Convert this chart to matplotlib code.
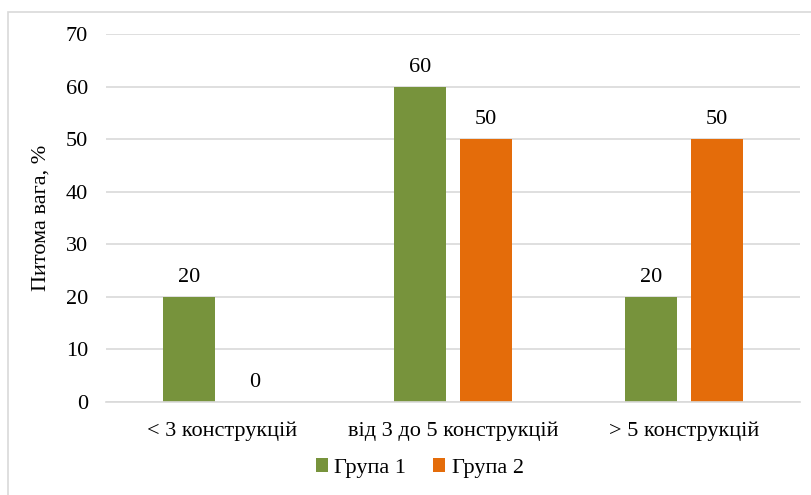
import matplotlib.pyplot as plt
import numpy as np
from matplotlib.patches import Rectangle

categories = ["< 3 конструкцій", "від 3 до 5 конструкцій", "> 5 конструкцій"]
group1 = [20, 60, 20]
group2 = [0, 50, 50]
series_names = ["Група 1", "Група 2"]

plt.rcParams["font.family"] = ["Liberation Serif", "DejaVu Serif"]

fig = plt.figure(figsize=(8.12, 4.95), dpi=100)
ax = fig.add_axes([0.1305, 0.1879, 0.8547, 0.7434])

# outer chart frame
fig.patches.append(Rectangle((8 / 812, -0.1), 1.2, 1 - 12 / 495 + 0.1,
                             transform=fig.transFigure, fill=False,
                             edgecolor="#D9D9D9", linewidth=1.2))

x = np.arange(len(categories))
w = 0.225
gap = 0.06
b1 = ax.bar(x - (w + gap) / 2, group1, w, color="#77933C", label=series_names[0])
b2 = ax.bar(x + (w + gap) / 2, group2, w, color="#E46C0A", label=series_names[1])

for bars in (b1, b2):
    ax.bar_label(bars, padding=7, fontsize=16)

ax.set_xlim(-0.5, 2.5)
ax.set_ylim(0, 70)
ax.set_yticks(range(0, 71, 10))
ax.set_xticks(x)
ax.set_xticklabels(categories)
ax.tick_params(axis="both", length=0, labelsize=16)
ax.tick_params(axis="x", pad=14)
ax.tick_params(axis="y", pad=13)
ax.yaxis.grid(True, color="#D9D9D9", linewidth=1.2)
ax.set_axisbelow(True)
for side in ("top", "right", "left"):
    ax.spines[side].set_visible(False)
ax.spines["bottom"].set_color("#D9D9D9")
ax.spines["bottom"].set_linewidth(1.2)

ax.set_ylabel("Питома вага, %", fontsize=16, labelpad=11)

fig.legend(loc="center", bbox_to_anchor=(0.517, 0.054), ncol=2, frameon=False,
           fontsize=16, handlelength=0.55, handleheight=0.55, handletextpad=0.3,
           columnspacing=1.2)

fig.savefig("out.png", dpi=100)
